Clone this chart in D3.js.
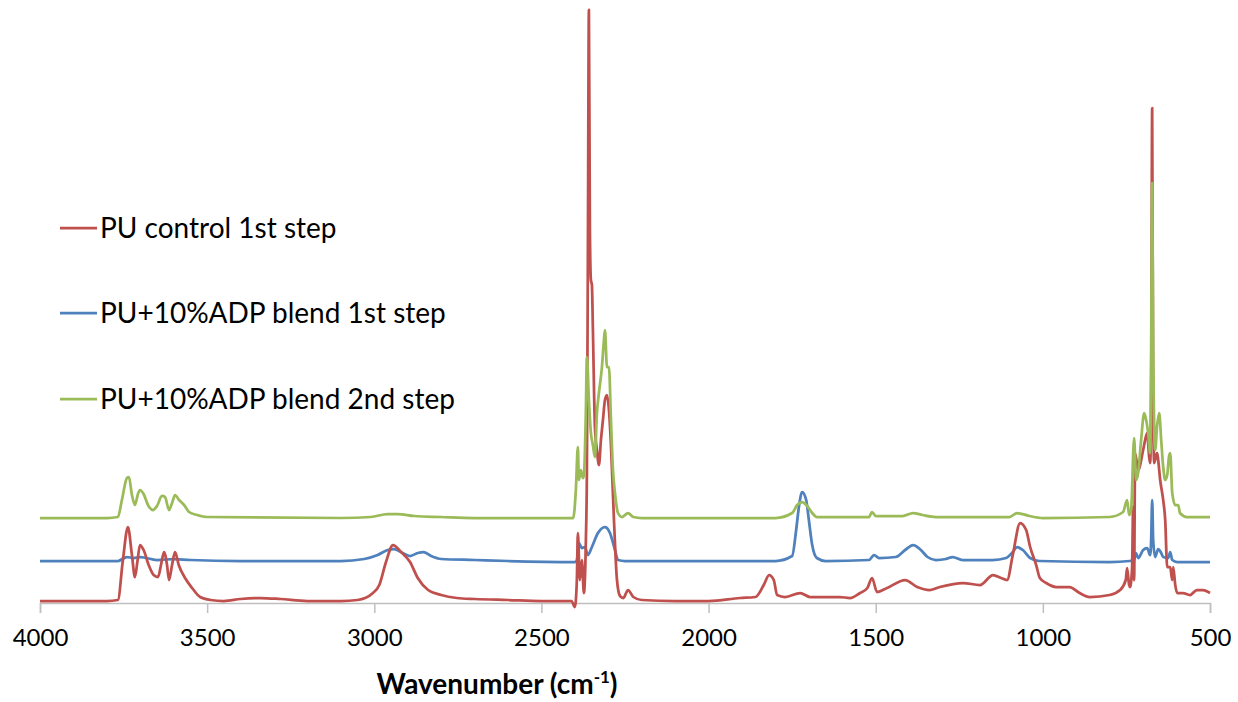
<!DOCTYPE html>
<html>
<head>
<meta charset="utf-8">
<script src="https://cdn.jsdelivr.net/npm/d3@7"></script>
<style>
  body { margin: 0; background: #fff; }
  text { font-family: Lato, "Open Sans", sans-serif; fill: #000; }
</style>
</head>
<body>
<div class="chart"></div>
<script>
var svgWidth = 1238;
var svgHeight = 702;

// spectra: [wavenumber (cm-1), absorbance (a.u., offset stacked)]
var puControl1 = [
  [4000, 2], [3900, 2], [3800, 2], [3767, 3], [3752, 43], [3737, 76], [3725, 48], [3716, 26],
  [3708, 43], [3701, 58], [3690, 53], [3675, 38], [3660, 28], [3647, 26], [3638, 38], [3629, 51],
  [3620, 38], [3614, 23], [3605, 38], [3596, 51], [3585, 38], [3566, 25], [3545, 15], [3521, 6],
  [3490, 3], [3450, 2], [3400, 4], [3340, 5], [3280, 4], [3200, 2], [3100, 2], [3050, 3],
  [3004, 10], [2985, 18], [2965, 41], [2944, 58], [2920, 51], [2893, 41], [2870, 25], [2839, 13],
  [2800, 8], [2753, 5], [2700, 4], [2600, 3], [2500, 2], [2410, 2], [2400, -4], [2394, 23],
  [2391, 70], [2385, 23], [2379, 43], [2373, 10], [2367, 63], [2364, 130], [2361, 353], [2358, 593],
  [2355, 373], [2352, 323], [2349, 318], [2346, 273], [2340, 176], [2334, 153], [2328, 138], [2322, 163],
  [2316, 183], [2310, 203], [2304, 208], [2298, 193], [2292, 158], [2283, 83], [2274, 23], [2265, 7],
  [2255, 5], [2241, 13], [2225, 6], [2200, 3], [2100, 2], [2000, 2], [1906, 5], [1860, 6],
  [1835, 18], [1819, 28], [1805, 23], [1795, 8], [1771, 6], [1726, 10], [1696, 6], [1658, 6],
  [1607, 6], [1577, 5], [1547, 10], [1525, 15], [1511, 25], [1496, 11], [1466, 15], [1412, 23],
  [1376, 16], [1338, 13], [1308, 16], [1239, 20], [1188, 18], [1149, 28], [1125, 25], [1107, 23],
  [1090, 48], [1068, 80], [1050, 73], [1038, 56], [1020, 38], [1009, 25], [990, 20], [960, 16],
  [920, 16], [890, 10], [860, 6], [800, 8], [769, 13], [752, 23], [748, 35], [742, 18],
  [739, 16], [733, 36], [730, 96], [727, 23], [724, 150], [715, 133], [700, 153], [694, 163],
  [688, 170], [682, 146], [679, 140], [676, 203], [673, 495], [670, 203], [667, 140], [661, 148],
  [658, 150], [655, 143], [649, 123], [640, 103], [634, 83], [628, 36], [619, 36], [613, 23],
  [610, 36], [604, 18], [598, 10], [581, 10], [560, 8], [539, 13], [521, 13], [500, 10]
];

var puAdp1 = [
  [4000, 42], [3800, 42], [3767, 42], [3740, 46], [3720, 45], [3700, 46], [3650, 43], [3600, 44],
  [3550, 43], [3400, 42], [3100, 42], [3030, 44], [2990, 48], [2960, 53], [2941, 54], [2915, 50],
  [2893, 47], [2870, 50], [2853, 51], [2830, 47], [2800, 44], [2700, 43], [2600, 42], [2400, 41],
  [2394, 43], [2388, 60], [2379, 55], [2370, 56], [2361, 48], [2349, 56], [2331, 70], [2310, 76],
  [2304, 75], [2295, 70], [2280, 53], [2271, 43], [2250, 42], [2000, 42], [1800, 42], [1750, 47],
  [1738, 73], [1729, 98], [1720, 111], [1708, 103], [1700, 83], [1690, 58], [1676, 45], [1650, 42],
  [1520, 43], [1505, 48], [1490, 45], [1440, 46], [1412, 53], [1388, 58], [1365, 53], [1345, 46],
  [1320, 43], [1290, 44], [1270, 46], [1240, 43], [1150, 43], [1110, 45], [1090, 51], [1077, 56],
  [1060, 53], [1038, 45], [1010, 42], [800, 41], [740, 42], [727, 43], [721, 50], [715, 45],
  [700, 53], [688, 55], [679, 48], [676, 63], [673, 103], [670, 63], [664, 46], [655, 54],
  [646, 50], [640, 46], [625, 45], [619, 51], [613, 43], [598, 41], [500, 41]
];

var puAdp2 = [
  [4000, 85], [3800, 85], [3767, 86], [3755, 103], [3740, 125], [3734, 126], [3725, 108], [3716, 98],
  [3707, 109], [3701, 113], [3690, 109], [3677, 98], [3662, 93], [3650, 97], [3635, 107], [3626, 106],
  [3614, 93], [3605, 100], [3596, 108], [3584, 103], [3569, 98], [3554, 91], [3530, 88], [3500, 86],
  [3100, 85], [3010, 86], [2960, 89], [2930, 89], [2880, 87], [2800, 86], [2700, 85], [2405, 85],
  [2397, 113], [2391, 156], [2388, 123], [2382, 133], [2376, 125], [2373, 127], [2367, 193], [2364, 246],
  [2358, 203], [2352, 170], [2346, 158], [2340, 146], [2334, 190], [2328, 210], [2319, 236], [2313, 263],
  [2310, 273], [2304, 236], [2298, 236], [2292, 183], [2286, 133], [2280, 110], [2271, 90], [2259, 86],
  [2241, 90], [2225, 86], [2200, 85], [1800, 85], [1750, 90], [1735, 98], [1720, 101], [1705, 97],
  [1690, 90], [1676, 86], [1520, 86], [1511, 91], [1500, 87], [1420, 87], [1388, 90], [1360, 88],
  [1320, 86], [1100, 86], [1077, 90], [1040, 87], [1000, 85], [800, 86], [760, 91], [748, 103],
  [742, 88], [736, 93], [727, 165], [721, 123], [715, 130], [706, 163], [697, 190], [691, 183],
  [685, 170], [679, 150], [676, 253], [673, 420], [670, 253], [664, 153], [658, 178], [652, 190],
  [646, 163], [640, 136], [634, 123], [628, 128], [622, 148], [619, 150], [613, 110], [604, 98],
  [598, 98], [595, 98], [590, 90], [569, 86], [500, 86]
];

var seriesNames = ["PU control 1st step", "PU+10%ADP blend 1st step", "PU+10%ADP blend 2nd step"];
var seriesColors = ["#C0504D", "#4F81BD", "#9BBB59"];
var xTicks = [4000, 3500, 3000, 2500, 2000, 1500, 1000, 500];

var svg = d3.select(".chart")
  .append("svg")
  .attr("width", svgWidth)
  .attr("height", svgHeight);

// wavenumber axis runs high to low
var xScale = d3.scaleLinear()
  .domain([4000, 500])
  .range([40, 1210]);

var yScale = d3.scaleLinear()
  .domain([0, 600])
  .range([603, 3]);

// x axis
var bottomAxis = d3.axisBottom(xScale)
  .tickValues(xTicks)
  .tickSize(10)
  .tickPadding(16)
  .tickFormat(d3.format("d"));

var xAxis = svg.append("g")
  .attr("transform", "translate(0, 603)")
  .call(bottomAxis);

xAxis.select(".domain").attr("stroke", "#bfbfbf").attr("stroke-width", 1.5);
xAxis.selectAll(".tick line").attr("stroke", "#bfbfbf").attr("stroke-width", 1.5);
xAxis.selectAll(".tick text")
  .attr("font-family", "Lato, sans-serif")
  .attr("font-size", 24)
  .attr("fill", "#000");

// spectra
var line = d3.line()
  .x(d => xScale(d[0]))
  .y(d => yScale(d[1]))
  .curve(d3.curveMonotoneX);

var allSeries = [puControl1, puAdp1, puAdp2];

// draw blue first, then red, green on top
[1, 0, 2].forEach(function(i) {
  svg.append("path")
    .datum(allSeries[i])
    .attr("fill", "none")
    .attr("stroke", seriesColors[i])
    .attr("stroke-width", 2.75)
    .attr("stroke-linejoin", "round")
    .attr("d", line);
});

// legend
var legendY = [228, 313, 399];
var legend = svg.append("g");

seriesNames.forEach(function(name, i) {
  legend.append("line")
    .attr("x1", 60)
    .attr("x2", 97)
    .attr("y1", legendY[i])
    .attr("y2", legendY[i])
    .attr("stroke", seriesColors[i])
    .attr("stroke-width", 2.75);

  legend.append("text")
    .attr("x", 100)
    .attr("y", legendY[i])
    .attr("dy", "0.35em")
    .attr("font-size", 28)
    .text(name);
});

// axis title
var title = svg.append("text")
  .attr("x", 497)
  .attr("y", 694)
  .attr("text-anchor", "middle")
  .attr("font-size", 28)
  .attr("font-weight", "bold");

title.append("tspan").text("Wavenumber (cm");
title.append("tspan").attr("font-size", 17).attr("dy", -11).text("-1");
title.append("tspan").attr("dy", 11).text(")");
</script>
</body>
</html>
